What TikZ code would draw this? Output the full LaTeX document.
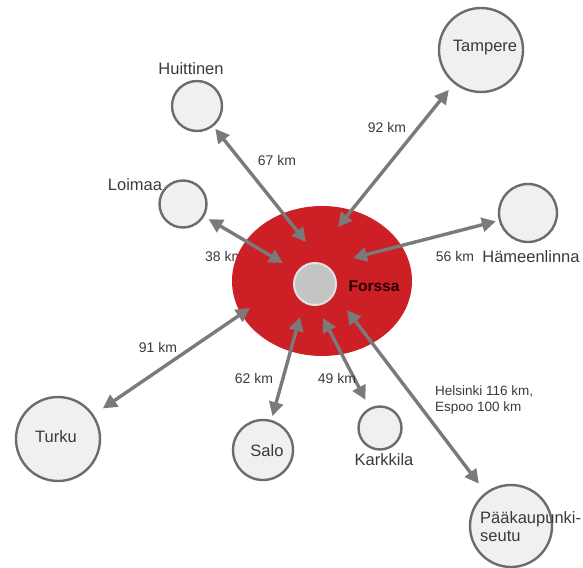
\documentclass[tikz,border=0pt]{standalone}
\usepackage{fontspec}
\setmainfont{Liberation Sans}
\usetikzlibrary{arrows.meta,shapes.geometric}
\definecolor{arrowgray}{HTML}{7A7A7A}
\definecolor{ringgray}{HTML}{6C6C6C}
\definecolor{cityfill}{HTML}{F0F0F0}
\definecolor{forssared}{HTML}{CC1F26}
\definecolor{coregray}{HTML}{C4C4C4}
\definecolor{coreedge}{HTML}{E2E2E2}
\definecolor{txtgray}{HTML}{3A3A3A}
\begin{document}
\begin{tikzpicture}[x=1pt,y=-1pt,
  city/.style={circle,draw=ringgray,fill=cityfill,line width=2.4pt,inner sep=0pt,minimum size=#1},
  link/.style={draw=arrowgray,line width=3.4pt,
    {Triangle[length=14pt,width=14pt]}-{Triangle[length=14pt,width=14pt]}},
  lbl/.style={text=txtgray,font=\fontsize{16.5}{19}\selectfont,inner sep=0pt},
  km/.style={text=txtgray,font=\fontsize{14}{16}\selectfont,inner sep=0pt}]
\useasboundingbox (0,0) rectangle (583,567);

% label partly hidden by the red disc
\node[km,anchor=west] (l38) at (205,256) {38 km};

% Forssa
\node[ellipse,fill=forssared,minimum width=180pt,minimum height=150pt,inner sep=0pt] (forssa) at (322,281) {};
\node[circle,fill=coregray,draw=coreedge,line width=2pt,minimum size=42pt,inner sep=0pt] (core) at (315,284) {};
\node[inner sep=0pt,text=black!85!red,font=\bfseries\fontsize{15.5}{18}\selectfont] (forssalbl) at (374,286) {Forssa};

% cities
\node[city=84pt] (tam) at (481,50) {};
\node[city=50pt] (hui) at (197,106) {};
\node[city=47pt] (loi) at (183,204) {};
\node[city=58pt] (ham) at (528,213) {};
\node[city=84pt] (tur) at (58,439) {};
\node[city=60pt] (sal) at (263,450) {};
\node[city=43pt] (kar) at (380,428) {};
\node[city=82pt] (paa) at (511,526) {};

% inner arrow ends
\coordinate (fhui) at (306,242);
\coordinate (ftam) at (338,227);
\coordinate (floi) at (283,263);
\coordinate (fham) at (353,258);
\coordinate (ftur) at (250,308);
\coordinate (fsal) at (300,317);
\coordinate (fkar) at (323,318);
\coordinate (fpaa) at (347,310);

% connectors
\draw[link,shorten <=3pt] (hui) -- (fhui);
\draw[link,shorten <=8pt] (tam) -- (ftam);
\draw[link,shorten <=5pt] (loi) -- (floi);
\draw[link,shorten <=3pt] (ham) -- (fham);
\draw[link,shorten <=11pt] (tur) -- (ftur);
\draw[link,shorten <=4pt] (sal) -- (fsal);
\draw[link,shorten <=9pt] (kar) -- (fkar);
\draw[link,shorten <=11pt] (paa) -- (fpaa);

% city labels
\node[lbl] (ltam) at (485,48) {Tampere};
\node[lbl] (lhui) at (191,69) {Huittinen};
\node[lbl] (lloi) at (135,185) {Loimaa};
\node[lbl] (lham) at (531,257) {Hämeenlinna};
\node[lbl] (ltur) at (56,437) {Turku};
\node[lbl] (lsal) at (267,451) {Salo};
\node[lbl] (lkar) at (384,460) {Karkkila};
\node[lbl,anchor=north west,align=left,font=\fontsize{16.5}{18}\selectfont] (lpaa) at (480,511) {Pääkaupunki-\\seutu};

% distance labels
\node[km] (l67) at (277,160) {67 km};
\node[km] (l92) at (387,127) {92 km};
\node[km] (l56) at (455,256) {56 km};
\node[km] (l91) at (158,347) {91 km};
\node[km] (l62) at (254,378) {62 km};
\node[km] (l49) at (337,378) {49 km};
\node[km,anchor=north west,align=left,font=\fontsize{13.5}{15.5}\selectfont] (lhel) at (435,386) {Helsinki 116 km,\\Espoo 100 km};
\end{tikzpicture}
\end{document}
